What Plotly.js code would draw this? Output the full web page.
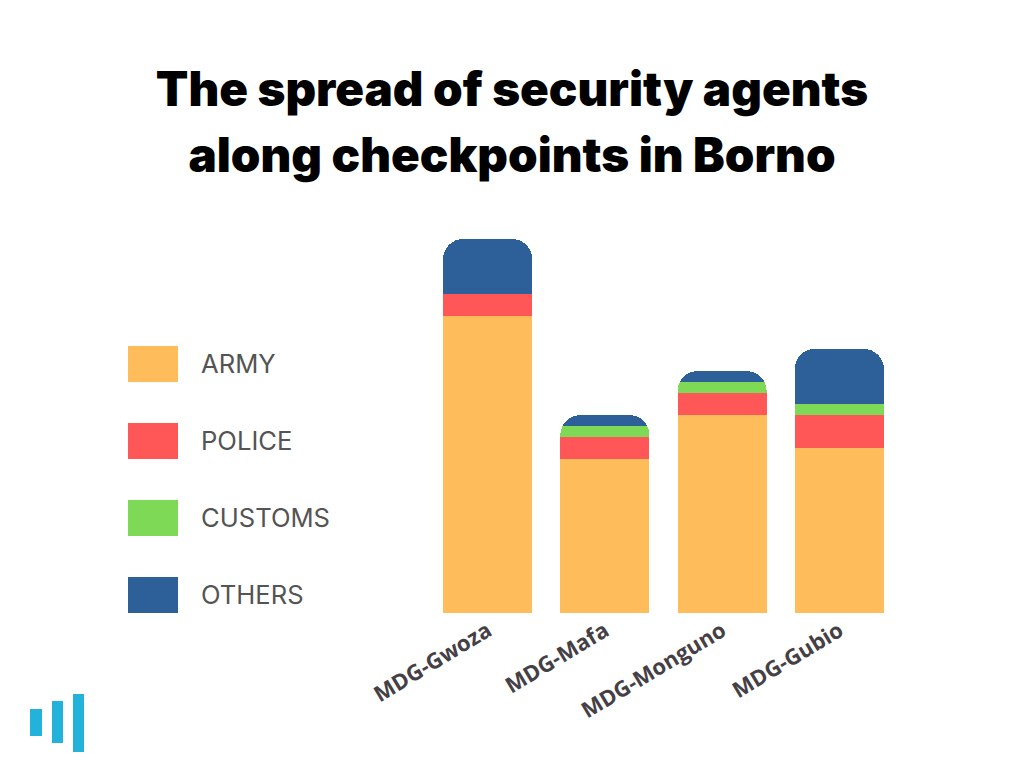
<!DOCTYPE html>
<html>
<head>
<meta charset="utf-8">
<script src="https://cdn.plot.ly/plotly-3.0.1.min.js"></script>
<style>html,body{margin:0;padding:0;background:#fff}#chart{width:1024px;height:768px}</style>
</head>
<body>
<div id="chart"></div>
<script>
const categories = ["MDG-Gwoza","MDG-Mafa","MDG-Monguno","MDG-Gubio"];
const army    = [27,14,18,15];
const police  = [2,2,2,3];
const customs = [0,1,1,1];
const others  = [5,1,1,5];
const seriesNames = ["ARMY","POLICE","CUSTOMS","OTHERS"];
const seriesColors = ["#FFBC5B","#FF5757","#7ED957","#2D5F98"];
const titleLines = ["The spread of security agents","along checkpoints in Borno"];

const W = 1024, H = 768;
const seriesValues = [army, police, customs, others];

const traces = seriesNames.map((name, i) => ({
  type: "bar", name, x: categories, y: seriesValues[i],
  marker: {color: seriesColors[i], line: {width: 0}}, width: 0.76
}));

const shapes = [], annotations = [];
const paperX = v => (v - 429) / 469, paperY = v => (613 - v) / 374;
seriesNames.forEach((name, i) => {
  const top = 346 + i * 77;
  shapes.push({type:"rect", xref:"paper", yref:"paper", line:{width:0}, fillcolor:seriesColors[i],
    x0:paperX(128), x1:paperX(178), y0:paperY(top+36), y1:paperY(top)});
  annotations.push({text:name, xref:"paper", yref:"paper", showarrow:false,
    x:paperX(199), y:paperY(top+17), xanchor:"left", yanchor:"middle",
    font:{family:"Inter, Open Sans, sans-serif", size:25.6, color:"#545454"}});
});
[[30,42,709,736],[52,63,701,743],[73,84,694,752]].forEach(r => {
  shapes.push({type:"rect", xref:"paper", yref:"paper", line:{width:0}, fillcolor:"#22B2DA",
    x0:paperX(r[0]), x1:paperX(r[1]), y0:paperY(r[3]), y1:paperY(r[2])});
});

const layout = {
  width: W, height: H, barmode: "stack", barcornerradius: 20, showlegend: false,
  paper_bgcolor: "#fff", plot_bgcolor: "#fff",
  margin: {l:429, r:126, t:239, b:155, pad:0},
  title: {
    text: titleLines.map(t => '<span style="font-size:47.5px">'+t+'</span>').join("<br>"),
    font: {family:"Inter, sans-serif", size:51, weight:900, color:"#000"},
    x: 0.5, xanchor:"center", xref:"container", y: 1-106/768, yref:"container", yanchor:"top"
  },
  xaxis: {
    type:"category", categoryorder:"array", categoryarray:categories, range:[-0.5,3.5],
    tickangle:-31, showgrid:false, zeroline:false, showline:false, ticks:"",
    tickfont:{family:"Open Sans, sans-serif", size:22, weight:700, color:"#454045"}
  },
  yaxis: {range:[0,34], visible:false, showgrid:false, zeroline:false},
  shapes, annotations
};
Plotly.newPlot("chart", traces, layout, {displayModeBar:false, staticPlot:true});
</script>
</body>
</html>
